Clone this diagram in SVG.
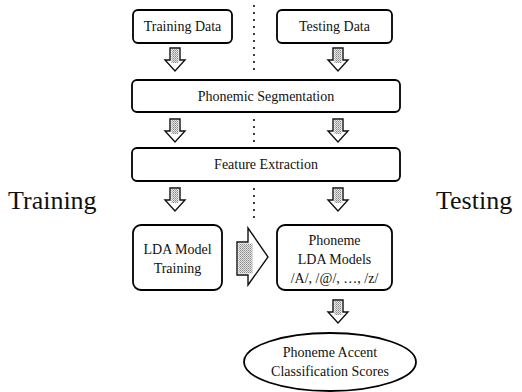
<svg xmlns="http://www.w3.org/2000/svg" width="522" height="392" viewBox="0 0 522 392">
  <style>
    .box { fill: #fff; stroke: #000; stroke-width: 1.8; }
    .lbl { font-family: "Liberation Serif", "Times New Roman", serif; font-size: 14px; fill: #111; text-anchor: middle; }
    .side { font-family: "Liberation Serif", "Times New Roman", serif; font-size: 26px; fill: #111; }
    .dots { stroke: #111; stroke-width: 2.2; stroke-linecap: round; stroke-dasharray: 0 7; fill: none; }
    .arr { fill: #fff; stroke: #111; stroke-width: 1.4; stroke-linejoin: miter; }
    .shaft { fill: url(#hatch); }
  </style>
  <defs>
    <pattern id="hatch" width="2" height="2" patternUnits="userSpaceOnUse">
      <rect width="2" height="2" fill="#e4e4e4"/>
      <rect width="1" height="1" fill="#888"/>
      <rect x="1" y="1" width="1" height="1" fill="#aaa"/>
    </pattern>
    <g id="down">
      <polygon class="arr" points="-5,0 5,0 5,12 10,12 0,23 -10,12 -5,12"/>
      <rect class="shaft" x="-3.5" y="1" width="7" height="14"/>
    </g>
  </defs>

  <!-- dividing dotted line between training and testing -->
  <g id="divider">
    <line class="dots" x1="254" y1="6" x2="254" y2="76"/>
    <line class="dots" x1="254" y1="120" x2="254" y2="143"/>
    <line class="dots" x1="254" y1="189" x2="254" y2="218"/>
  </g>

  <g id="side-labels">
    <text class="side" x="8" y="209">Training</text>
    <text class="side" x="436" y="209">Testing</text>
  </g>

  <g id="training-data">
    <rect class="box" x="133" y="10" width="99" height="33" rx="5"/>
    <text class="lbl" x="182.5" y="31">Training Data</text>
  </g>
  <g id="testing-data">
    <rect class="box" x="277" y="10" width="115" height="33" rx="5"/>
    <text class="lbl" x="334.5" y="31">Testing Data</text>
  </g>
  <g id="segmentation">
    <rect class="box" x="132" y="80" width="268" height="32" rx="5"/>
    <text class="lbl" x="266" y="101">Phonemic Segmentation</text>
  </g>
  <g id="feature-extraction">
    <rect class="box" x="132" y="148" width="268" height="33" rx="5"/>
    <text class="lbl" x="266" y="169">Feature Extraction</text>
  </g>
  <g id="lda-training">
    <rect class="box" x="133" y="225" width="89" height="65" rx="8"/>
    <text class="lbl" x="177.5" y="254">LDA Model</text>
    <text class="lbl" x="177.5" y="273">Training</text>
  </g>
  <g id="lda-models">
    <rect class="box" x="277" y="225" width="115" height="65" rx="8"/>
    <text class="lbl" x="334.5" y="245">Phoneme</text>
    <text class="lbl" x="334.5" y="264">LDA Models</text>
    <text class="lbl" x="334.5" y="283">/A/, /@/, …, /z/</text>
  </g>
  <g id="scores">
    <ellipse class="box" cx="330" cy="362" rx="86" ry="29"/>
    <text class="lbl" x="330" y="357">Phoneme Accent</text>
    <text class="lbl" x="330" y="376">Classification Scores</text>
  </g>

  <g id="connectors">
    <use href="#down" x="175" y="48"/>
    <use href="#down" x="338" y="48"/>
    <use href="#down" x="175" y="119"/>
    <use href="#down" x="338" y="119"/>
    <use href="#down" x="175" y="188"/>
    <use href="#down" x="338" y="188"/>
    <use href="#down" x="338" y="300"/>
    <!-- wide arrow from training to models -->
    <polygon class="arr" points="237,242 248,242 248,228 268,257 248,285 248,275 237,275"/>
    <rect class="shaft" x="238.5" y="243.5" width="14" height="30"/>
  </g>
</svg>
